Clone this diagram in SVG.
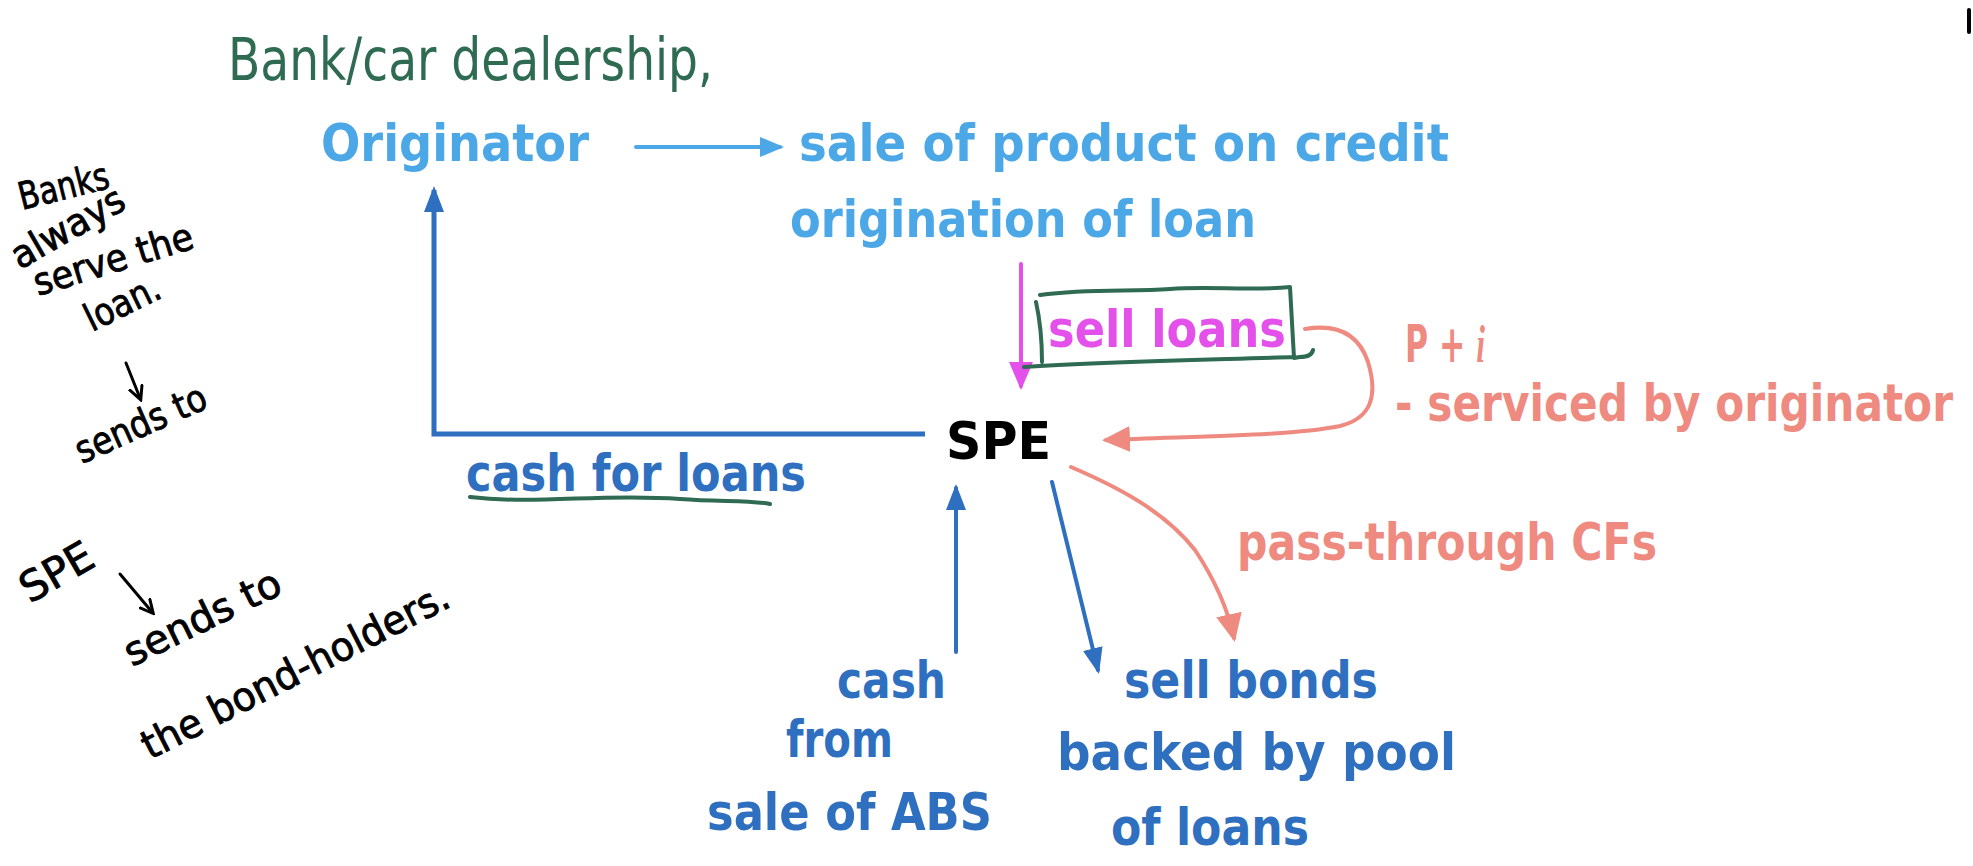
<svg xmlns="http://www.w3.org/2000/svg" width="1973" height="866" viewBox="0 0 1973 866">
<style>
.t{font-family:"DejaVu Sans","Noto Sans",sans-serif;font-weight:bold;font-size:52px}
.lb{fill:#4ba7e5}
.db{fill:#2f6fbf}
.sa{fill:#ee8a80}
.mg{fill:#e350ea}
.hw{font-family:"DejaVu Sans Condensed","DejaVu Sans",sans-serif;font-weight:normal;fill:#000;stroke:#000;stroke-width:0.8px}
.hg{fill:#2e6b52}
</style>
<defs>
<marker id="hLB" markerUnits="userSpaceOnUse" markerWidth="24" markerHeight="24" viewBox="0 0 24 24" refX="20" refY="12" orient="auto"><path d="M0,2 L24,12 L0,22 z" fill="#4ba7e5"/></marker>
<marker id="hDB" markerUnits="userSpaceOnUse" markerWidth="26" markerHeight="26" viewBox="0 0 26 26" refX="22" refY="13" orient="auto"><path d="M0,3 L26,13 L0,23 z" fill="#2f6fbf"/></marker>
<marker id="hMG" markerUnits="userSpaceOnUse" markerWidth="28" markerHeight="26" viewBox="0 0 28 26" refX="24" refY="13" orient="auto"><path d="M0,1 L28,13 L0,25 z" fill="#e350ea"/></marker>
<marker id="hSA" markerUnits="userSpaceOnUse" markerWidth="28" markerHeight="28" viewBox="0 0 28 28" refX="24" refY="14" orient="auto"><path d="M0,1 L28,14 L0,27 z" fill="#ee8a80"/></marker>
<marker id="hBK" markerUnits="userSpaceOnUse" markerWidth="16" markerHeight="16" viewBox="0 0 16 16" refX="12" refY="8" orient="auto"><path d="M0,1 L14,8 L0,15" fill="none" stroke="#000" stroke-width="3" stroke-linecap="round"/></marker>
</defs>
<rect width="1973" height="866" fill="#fff"/>

<g id="connectors" fill="none" stroke-linecap="round" stroke-linejoin="round">
<line x1="636" y1="147" x2="780" y2="147" stroke="#4ba7e5" stroke-width="4" marker-end="url(#hLB)"/>
<polyline points="925,434 434,434 434,190" stroke="#2f6fbf" stroke-width="5" stroke-linecap="butt" stroke-linejoin="miter" marker-end="url(#hDB)"/>
<line x1="1021" y1="264" x2="1021" y2="386" stroke="#e350ea" stroke-width="4" marker-end="url(#hMG)"/>
<path d="M1305,329 C1335,324 1358,332 1368,362 C1378,395 1372,418 1340,426 C1290,436 1200,436 1106,440" stroke="#ee8a80" stroke-width="4" marker-end="url(#hSA)"/>
<line x1="956" y1="652" x2="956" y2="488" stroke="#2f6fbf" stroke-width="4" marker-end="url(#hDB)"/>
<line x1="1052" y1="482" x2="1098" y2="670" stroke="#2f6fbf" stroke-width="4" marker-end="url(#hDB)"/>
<path d="M1071,467 C1120,488 1165,512 1195,550 C1215,580 1228,610 1234,638" stroke="#ee8a80" stroke-width="4" marker-end="url(#hSA)"/>
</g>

<g id="label-bank">
<text x="228" y="80" font-family="DejaVu Sans Condensed, DejaVu Sans, sans-serif" font-size="58" fill="#2e6b52" textLength="485" lengthAdjust="spacingAndGlyphs">Bank/car  dealership,</text>
</g>

<g id="node-originator">
<text class="t lb" x="321" y="161" textLength="268" lengthAdjust="spacingAndGlyphs">Originator</text>
</g>

<g id="node-sale">
<text class="t lb" x="799" y="161" textLength="650" lengthAdjust="spacingAndGlyphs">sale of product on credit</text>
<text class="t lb" x="790" y="237" textLength="466" lengthAdjust="spacingAndGlyphs">origination of loan</text>
</g>

<g id="node-sell-loans">
<path d="M1040,295 C1090,288 1130,292 1170,289 C1210,286 1250,291 1290,287 L1294,358 L1300,357 C1308,357 1312,355 1313,350 M1036,302 C1040,320 1042,345 1042,362 M1024,367 C1100,362 1200,360 1295,357" fill="none" stroke="#2e6b52" stroke-width="4" stroke-linecap="round" stroke-linejoin="round"/>
<text class="t mg" x="1048" y="347" textLength="238" lengthAdjust="spacingAndGlyphs">sell loans</text>
</g>

<g id="label-pi">
<text class="t sa" x="1405" y="362" textLength="80" lengthAdjust="spacingAndGlyphs">P + <tspan font-style="italic" font-family="Liberation Serif, serif">i</tspan></text>
<text class="t sa" x="1395" y="421" textLength="558" lengthAdjust="spacingAndGlyphs">- serviced by originator</text>
</g>

<g id="node-spe">
<text class="t" x="946" y="459" font-size="60" fill="#000" textLength="105" lengthAdjust="spacingAndGlyphs">SPE</text>
</g>

<g id="label-cash-for-loans">
<text class="t db" x="466" y="491" textLength="340" lengthAdjust="spacingAndGlyphs">cash for loans</text>
<path d="M470,497 C540,505 600,493 680,499 C720,502 750,500 770,504" fill="none" stroke="#2e6b52" stroke-width="4" stroke-linecap="round"/>
</g>

<g id="label-pass-through">
<text class="t sa" x="1237" y="560" textLength="420" lengthAdjust="spacingAndGlyphs">pass-through CFs</text>
</g>

<g id="node-cash-from">
<text class="t db" x="837" y="698" textLength="109" lengthAdjust="spacingAndGlyphs">cash</text>
<text class="t db" x="786" y="757" textLength="107" lengthAdjust="spacingAndGlyphs">from</text>
<text class="t db" x="707" y="830" textLength="285" lengthAdjust="spacingAndGlyphs">sale of ABS</text>
</g>

<g id="node-sell-bonds">
<text class="t db" x="1124" y="698" textLength="254" lengthAdjust="spacingAndGlyphs">sell bonds</text>
<text class="t db" x="1057" y="770" textLength="399" lengthAdjust="spacingAndGlyphs">backed by pool</text>
<text class="t db" x="1111" y="845" textLength="198" lengthAdjust="spacingAndGlyphs">of loans</text>
</g>

<g id="note-left">
<text class="hw" font-size="38" transform="translate(22,210) rotate(-14)" textLength="92" lengthAdjust="spacingAndGlyphs">Banks</text>
<text class="hw" font-size="38" transform="translate(20,270) rotate(-30)" textLength="125" lengthAdjust="spacingAndGlyphs">always</text>
<text class="hw" font-size="38" transform="translate(38,296) rotate(-17)" textLength="165" lengthAdjust="spacingAndGlyphs">serve the</text>
<text class="hw" font-size="38" transform="translate(92,332) rotate(-26)" textLength="80" lengthAdjust="spacingAndGlyphs">loan.</text>
<line x1="126" y1="363" x2="140" y2="398" stroke="#000" stroke-width="3" stroke-linecap="round" marker-end="url(#hBK)"/>
<text class="hw" font-size="38" transform="translate(82,464) rotate(-24)" textLength="140" lengthAdjust="spacingAndGlyphs">sends to</text>
<text class="hw" font-size="42" transform="translate(30,604) rotate(-30)" textLength="78" lengthAdjust="spacingAndGlyphs">SPE</text>
<line x1="120" y1="574" x2="152" y2="612" stroke="#000" stroke-width="3" stroke-linecap="round" marker-end="url(#hBK)"/>
<text class="hw" font-size="40" transform="translate(132,667) rotate(-26)" textLength="170" lengthAdjust="spacingAndGlyphs">sends   to</text>
<text class="hw" font-size="40" transform="translate(150,760) rotate(-27)" textLength="340" lengthAdjust="spacingAndGlyphs">the bond-holders.</text>
</g>

<path d="M1969,10 L1969,32" stroke="#000" stroke-width="4" stroke-linecap="round"/>
</svg>
